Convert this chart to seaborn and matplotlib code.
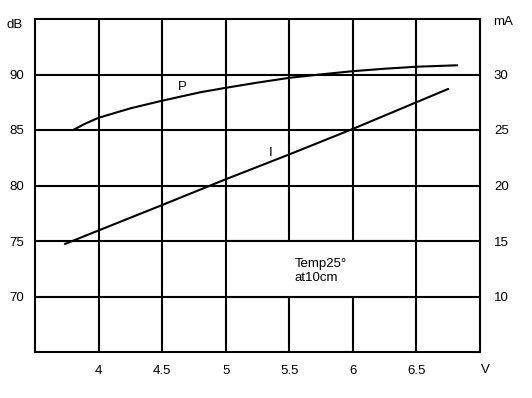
import matplotlib
matplotlib.use("Agg")
import matplotlib.pyplot as plt
from matplotlib.patches import Rectangle
import seaborn as sns
import pandas as pd

# values
p_volts = [3.8, 3.9, 4.0, 4.25, 4.5, 4.8, 5.0, 5.25, 5.5, 5.74, 6.0, 6.25, 6.5, 6.82]
p_db = [85.0, 85.6, 86.1, 86.95, 87.64, 88.4, 88.8, 89.27, 89.7, 90.0, 90.3, 90.52, 90.7, 90.83]

i_volts = [3.735, 4.0, 4.5, 5.0, 5.5, 6.0, 6.5, 6.75]
i_ma = [14.73, 15.95, 18.24, 20.56, 22.8, 25.1, 27.5, 28.7]

x_ticks = [4, 4.5, 5, 5.5, 6, 6.5]
x_labels = ["4", "4.5", "5", "5.5", "6", "6.5"]
db_ticks = [70, 75, 80, 85, 90]
ma_ticks = [10, 15, 20, 25, 30]

p_df = pd.DataFrame({"V": p_volts, "dB": p_db})
i_df = pd.DataFrame({"V": i_volts, "mA": i_ma})

sns.set_style("white")
plt.rcParams['font.family'] = ['Liberation Sans', 'DejaVu Sans']
plt.rcParams['font.size'] = 9.5
plt.rcParams['text.color'] = 'black'

fig, ax = plt.subplots(figsize=(5.32, 3.98), dpi=100)
fig.subplots_adjust(left=35/532, right=480/532, top=1-19/398, bottom=1-352/398)

lw = 1.5
sns.lineplot(data=p_df, x="V", y="dB", ax=ax, color="black", lw=lw, zorder=3)
ax.set_xlim(3.5, 7)
ax.set_ylim(65, 95)
ax.set_xticks(x_ticks)
ax.set_xticklabels(x_labels)
ax.set_yticks(db_ticks)
ax.grid(True, color="black", lw=lw)
ax.tick_params(length=0, labelsize=9.5, colors="black")
ax.tick_params(axis="y", pad=8)
ax.tick_params(axis="x", pad=9)
ax.set_xlabel("")
ax.set_ylabel("")
for s in ax.spines.values():
    s.set_color("black")
    s.set_linewidth(lw)

# white panel behind the note hides the grid there
ax.add_patch(Rectangle((5.012, 70.0), 1.476, 5.0, facecolor="white",
                       edgecolor="none", zorder=1))
ax.hlines([70, 75], 5.0, 6.5, color="black", lw=lw, zorder=1.2)

ax2 = ax.twinx()
sns.lineplot(data=i_df, x="V", y="mA", ax=ax2, color="black", lw=lw)
ax2.set_ylim(5, 35)
ax2.set_yticks(ma_ticks)
ax2.tick_params(length=0, labelsize=9.5, colors="black", pad=10)
ax2.set_ylabel("")
ax2.grid(False)
for s in ax2.spines.values():
    s.set_visible(False)

# axis unit labels and annotations
fig.text(15/532, 1-25/398, "dB", ha="center", va="center", fontsize=9.5)
fig.text(503/532, 1-22/398, "mA", ha="center", va="center", fontsize=9.5)
fig.text(485/532, 1-370/398, "V", ha="center", va="center", fontsize=9.5)
ax.text(4.66, 88.9, "P", ha="center", va="center", fontsize=9.5)
ax.text(5.35, 82.9, "I", ha="center", va="center", fontsize=9.5)
ax.text(5.54, 72.3, "Temp25°\nat10cm", ha="left", va="center", fontsize=9.5,
        linespacing=1.25)

fig.savefig("out.png", dpi=100)
